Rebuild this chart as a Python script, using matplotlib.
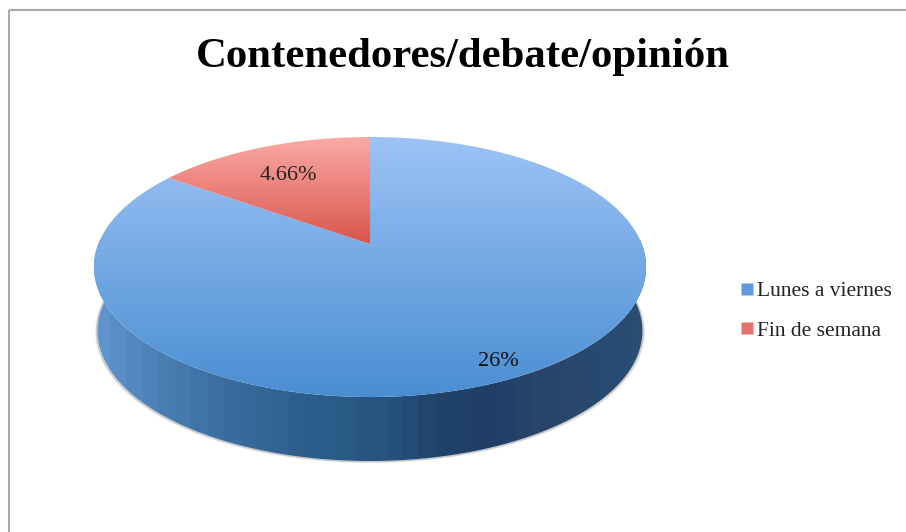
import numpy as np
import matplotlib
matplotlib.use('Agg')
import matplotlib.pyplot as plt
from matplotlib.colors import LinearSegmentedColormap
from matplotlib.patches import Polygon, Rectangle
from matplotlib.lines import Line2D

titulo = 'Contenedores/debate/opinión'
categorias = ['Lunes a viernes', 'Fin de semana']
valores = [26, 4.66]
etiquetas = ['26%', '4.66%']

plt.rcParams['font.family'] = ['Liberation Serif', 'DejaVu Serif']

# geometria do disco em pixels
cx, cy = 370, 267
a, b, c, k = 271.7, 130, 23, 0.177
prof = 64

def proj(ang):
	# ang medido a partir do topo, sentido horario (perspectiva simples)
	x = np.sin(ang)
	y = np.cos(ang)
	d = 1 + k*y
	return cx + a*x/d, cy - (b*y + c)/d

def fatia(a0, a1):
	t = np.linspace(a0, a1, 200)
	X, Y = proj(t)
	return np.column_stack([np.r_[cx, X], np.r_[cy - c, Y]])

def grad(cores, pol, extent, horizontal=False, passos=256):
	cmap = LinearSegmentedColormap.from_list('g', cores)
	g = np.linspace(0, 1, passos)
	g = g.reshape(1, -1) if horizontal else g.reshape(-1, 1)
	im = ax.imshow(g, cmap=cmap, extent=extent, aspect='auto', zorder=pol.get_zorder(), interpolation='nearest')
	ax.add_patch(pol)
	im.set_clip_path(pol)

fig = plt.figure(figsize=(9.06, 5.32), dpi=100)
ax = fig.add_axes([0, 0, 1, 1])

# moldura
ax.add_patch(Rectangle((9, 10), 900, 530, fill=False, ec='#a9a9a9', lw=1.5, zorder=1))

# parede lateral: metade de baixo do contorno deslocada
tb = np.linspace(np.pi/2 - 0.2, 3*np.pi/2 + 0.2, 300)
Xb, Yb = proj(tb)
fx = (Xb - cx)*0.987 + cx
borda_inf = np.column_stack([fx, Yb + prof])
parede = Polygon(np.vstack([np.column_stack([Xb, Yb]), borda_inf[::-1]]), closed=True, fc='none', ec='none', zorder=3)

# sombra fina embaixo da parede
sombra = Yb + prof > cy + prof*0.5
for off, al in [(2.5, 0.08), (1.5, 0.14), (0.8, 0.22)]:
	ax.plot(fx[sombra] + np.sign(fx[sombra] - cx)*off*0.7, (Yb + prof)[sombra] + off*0.5, color='#666666', alpha=al, lw=1.2, zorder=2)

cores_parede = ['#5f93cd', '#4d82b8', '#3f74a8', '#37689a', '#2f5f8d', '#2a5a86', '#26507c', '#204269', '#1f3f66', '#28446a', '#28496f', '#2c4d72']
grad(cores_parede, parede, (94, 646, 470, 240), horizontal=True, passos=34)

# fatias a partir dos valores
total = sum(valores)
ang = np.cumsum([0] + valores)/total*2*np.pi
topo = {0: ['#9dc3f6', '#4a8ed2'], 1: ['#fbaaa6', '#d9554b']}
for i in range(len(valores)):
	pol = Polygon(fatia(ang[i], ang[i + 1]), closed=True, fc='none', ec='none', zorder=4 + i)
	if i == 0:
		grad(topo[i], pol, (90, 650, 397, 137))
	else:
		grad(topo[i], pol, (90, 650, 244, 137))

ax.text(498, 361, etiquetas[0], fontsize=16, color='#111111', ha='center', va='center', zorder=8)
ax.text(288, 175, etiquetas[1], fontsize=16, color='#222222', ha='center', va='center', zorder=8)

ax.text(463, 57, titulo, fontsize=30.8, fontweight='bold', color='black', ha='center', va='center', zorder=8)

# legenda
handles = [Line2D([], [], ls='none', marker='s', ms=8, mfc=cor, mec='none') for cor in ['#5f9ae0', '#e4716a']]
leg = ax.legend(handles, categorias, loc='upper left', bbox_to_anchor=(739/906, 1 - 281/532), frameon=False,
	fontsize=15.5, labelspacing=0.92, handlelength=0.7, handletextpad=0.14, borderpad=0, borderaxespad=0, labelcolor='#222222')

ax.set_xlim(0, 906)
ax.set_ylim(532, 0)
ax.axis('off')
fig.savefig('out.png', dpi=100, facecolor='white')
